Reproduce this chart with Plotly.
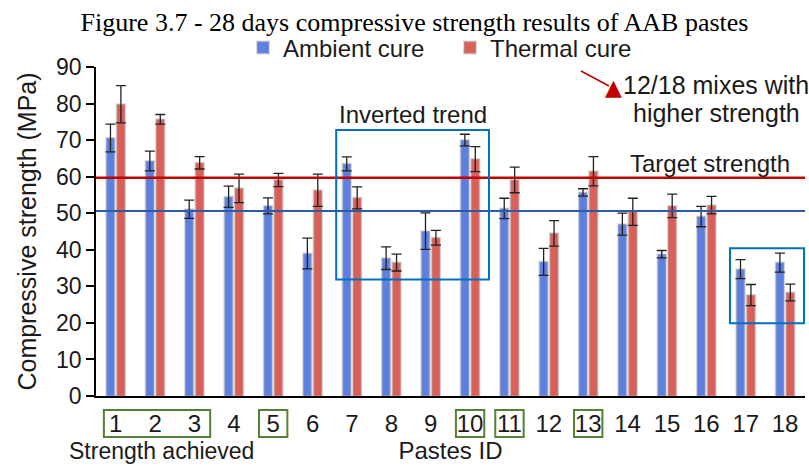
import plotly.graph_objects as go

# ---------------- data ----------------
pastes_id = [str(i) for i in range(1, 19)]
ambient = [70.6, 64.3, 51.1, 54.5, 52.0, 39.0, 63.5, 37.7, 45.1, 70.0, 51.3, 36.7, 55.7, 47.0, 38.8, 49.1, 34.7, 36.5]
ambient_err = [3.8, 2.7, 2.5, 2.9, 2.2, 4.2, 1.9, 3.1, 5.0, 1.6, 2.8, 3.7, 1.0, 3.0, 1.0, 2.8, 2.6, 2.6]
thermal = [79.8, 75.7, 63.8, 56.8, 59.1, 56.3, 54.2, 36.5, 43.3, 64.8, 59.1, 44.5, 61.5, 50.4, 52.0, 52.2, 27.6, 28.3]
thermal_err = [5.1, 1.3, 1.7, 3.9, 1.8, 4.4, 3.0, 2.3, 2.0, 3.4, 3.5, 3.5, 4.0, 3.7, 3.2, 2.4, 2.9, 2.3]
target_strength = 59.7
ambient_mean_line = 50.6
achieved_groups = [(1, 3), (5, 5), (10, 10), (11, 11), (13, 13)]
inverted_groups = [(7, 10, 31.9, 72.8), (17, 18, 19.9, 40.4)]

W, H = 809, 466
ML, MR, MT, MB = 96, 4, 67, 70
PW, PH = W - ML - MR, H - MT - MB


def px(xp):
    return (xp - ML) / PW


def py(yp):
    return (H - MB - yp) / PH


FONT = "Liberation Sans, Arial, sans-serif"
TXT = "#1a1a1a"
BLUE = "#5d7fe0"
RED = "#d95f58"
FS = 24

fig = go.Figure()
fig.add_trace(go.Bar(
    x=pastes_id, y=ambient, name="Ambient cure", legend="legend", showlegend=True,
    marker=dict(color=BLUE, line=dict(color="rgba(170,170,170,0.45)", width=2)),
    error_y=dict(type="data", array=ambient_err, color="#222", thickness=1.3, width=5),
))
fig.add_trace(go.Bar(
    x=pastes_id, y=thermal, name="Thermal cure", legend="legend2", showlegend=True,
    marker=dict(color=RED, line=dict(color="rgba(170,170,170,0.45)", width=2)),
    error_y=dict(type="data", array=thermal_err, color="#222", thickness=1.3, width=5),
))

shapes = []
# reference lines
shapes.append(dict(type="line", xref="paper", yref="y", x0=0, x1=1, y0=target_strength, y1=target_strength,
                   line=dict(color="#c00000", width=2.5), layer="above"))
shapes.append(dict(type="line", xref="paper", yref="y", x0=0, x1=1, y0=ambient_mean_line, y1=ambient_mean_line,
                   line=dict(color="#2f5aa8", width=2), layer="above"))
# inverted trend boxes
for a, b, y0, y1 in inverted_groups:
    shapes.append(dict(type="rect", xref="x", yref="y", x0=a - 1 - 0.4, x1=b - 1 + 0.48, y0=y0, y1=y1,
                       line=dict(color="#0070c0", width=2), fillcolor="rgba(0,0,0,0)", layer="above"))
# strength achieved boxes
for a, b in achieved_groups:
    pad = 0.36 if a == b else 0.3
    shapes.append(dict(type="rect", xref="x", yref="paper", x0=a - 1 - pad, x1=b - 1 + pad + (0.1 if a != b else 0),
                       y0=py(437), y1=py(410),
                       line=dict(color="#548235", width=2), fillcolor="rgba(0,0,0,0)"))
# arrow line
shapes.append(dict(type="line", xref="paper", yref="paper", x0=px(581), y0=py(71), x1=px(609), y1=py(86),
                   line=dict(color="#c00000", width=1.5)))

annotations = [
    dict(text="Inverted trend", xref="x", yref="y", x=5.62, y=72.8, xanchor="left", yanchor="bottom",
         showarrow=False, font=dict(family=FONT, size=FS, color=TXT)),
    dict(text="Target strength", xref="x", yref="y", x=13.0, y=63.7, xanchor="left", yanchor="middle",
         showarrow=False, font=dict(family=FONT, size=FS, color=TXT)),
    dict(text="12/18 mixes with", xref="paper", yref="paper", x=px(716), y=py(85), xanchor="center",
         yanchor="middle", showarrow=False, font=dict(family=FONT, size=25, color=TXT)),
    dict(text="higher strength", xref="paper", yref="paper", x=px(716), y=py(113), xanchor="center",
         yanchor="middle", showarrow=False, font=dict(family=FONT, size=25, color=TXT)),
    dict(text="▲", xref="paper", yref="paper", x=px(613), y=py(87), xanchor="center", yanchor="middle",
         showarrow=False, font=dict(family="DejaVu Sans", size=22, color="#c00000")),
    dict(text="Strength achieved", xref="paper", yref="paper", x=px(161), y=py(451), xanchor="center",
         yanchor="middle", showarrow=False, font=dict(family=FONT, size=23, color=TXT)),
]

leg_common = dict(orientation="h", yanchor="middle", y=py(48), xanchor="left", visible=True,
                  font=dict(family=FONT, size=FS, color=TXT), itemwidth=30, bgcolor="rgba(0,0,0,0)")

fig.update_layout(
    width=W, height=H,
    margin=dict(l=ML, r=MR, t=MT, b=MB, autoexpand=False),
    paper_bgcolor="white", plot_bgcolor="white",
    showlegend=True,
    barmode="group", bargap=0.47, bargroupgap=0.2,
    title=dict(text="Figure 3.7 - 28 days compressive strength results of AAB pastes",
               font=dict(family="Liberation Serif, Times New Roman, serif", size=26, color="#000"),
               x=414.5 / W, xref="container", xanchor="center", y=1 - 22 / H, yref="container", yanchor="middle"),
    legend=dict(x=px(243), **leg_common),
    legend2=dict(x=px(450), **leg_common),
    shapes=shapes, annotations=annotations,
    xaxis=dict(type="category", showline=True, linecolor="black", linewidth=2, ticks="outside",
               ticklen=5, tickcolor="rgba(0,0,0,0)", tickfont=dict(family=FONT, size=FS, color=TXT),
               showgrid=False, zeroline=False,
               title=dict(text="Pastes ID", font=dict(family=FONT, size=FS, color=TXT), standoff=6)),
    yaxis=dict(range=[0, 90], dtick=10, showline=True, linecolor="black", linewidth=1.5, ticks="outside",
               ticklen=8, tickwidth=1.5, tickcolor="black", tickfont=dict(family=FONT, size=23, color=TXT),
               showgrid=False, zeroline=False,
               title=dict(text="Compressive strength (MPa)", font=dict(family=FONT, size=25, color=TXT),
                          standoff=12)),
)

fig.write_html("out.html")
